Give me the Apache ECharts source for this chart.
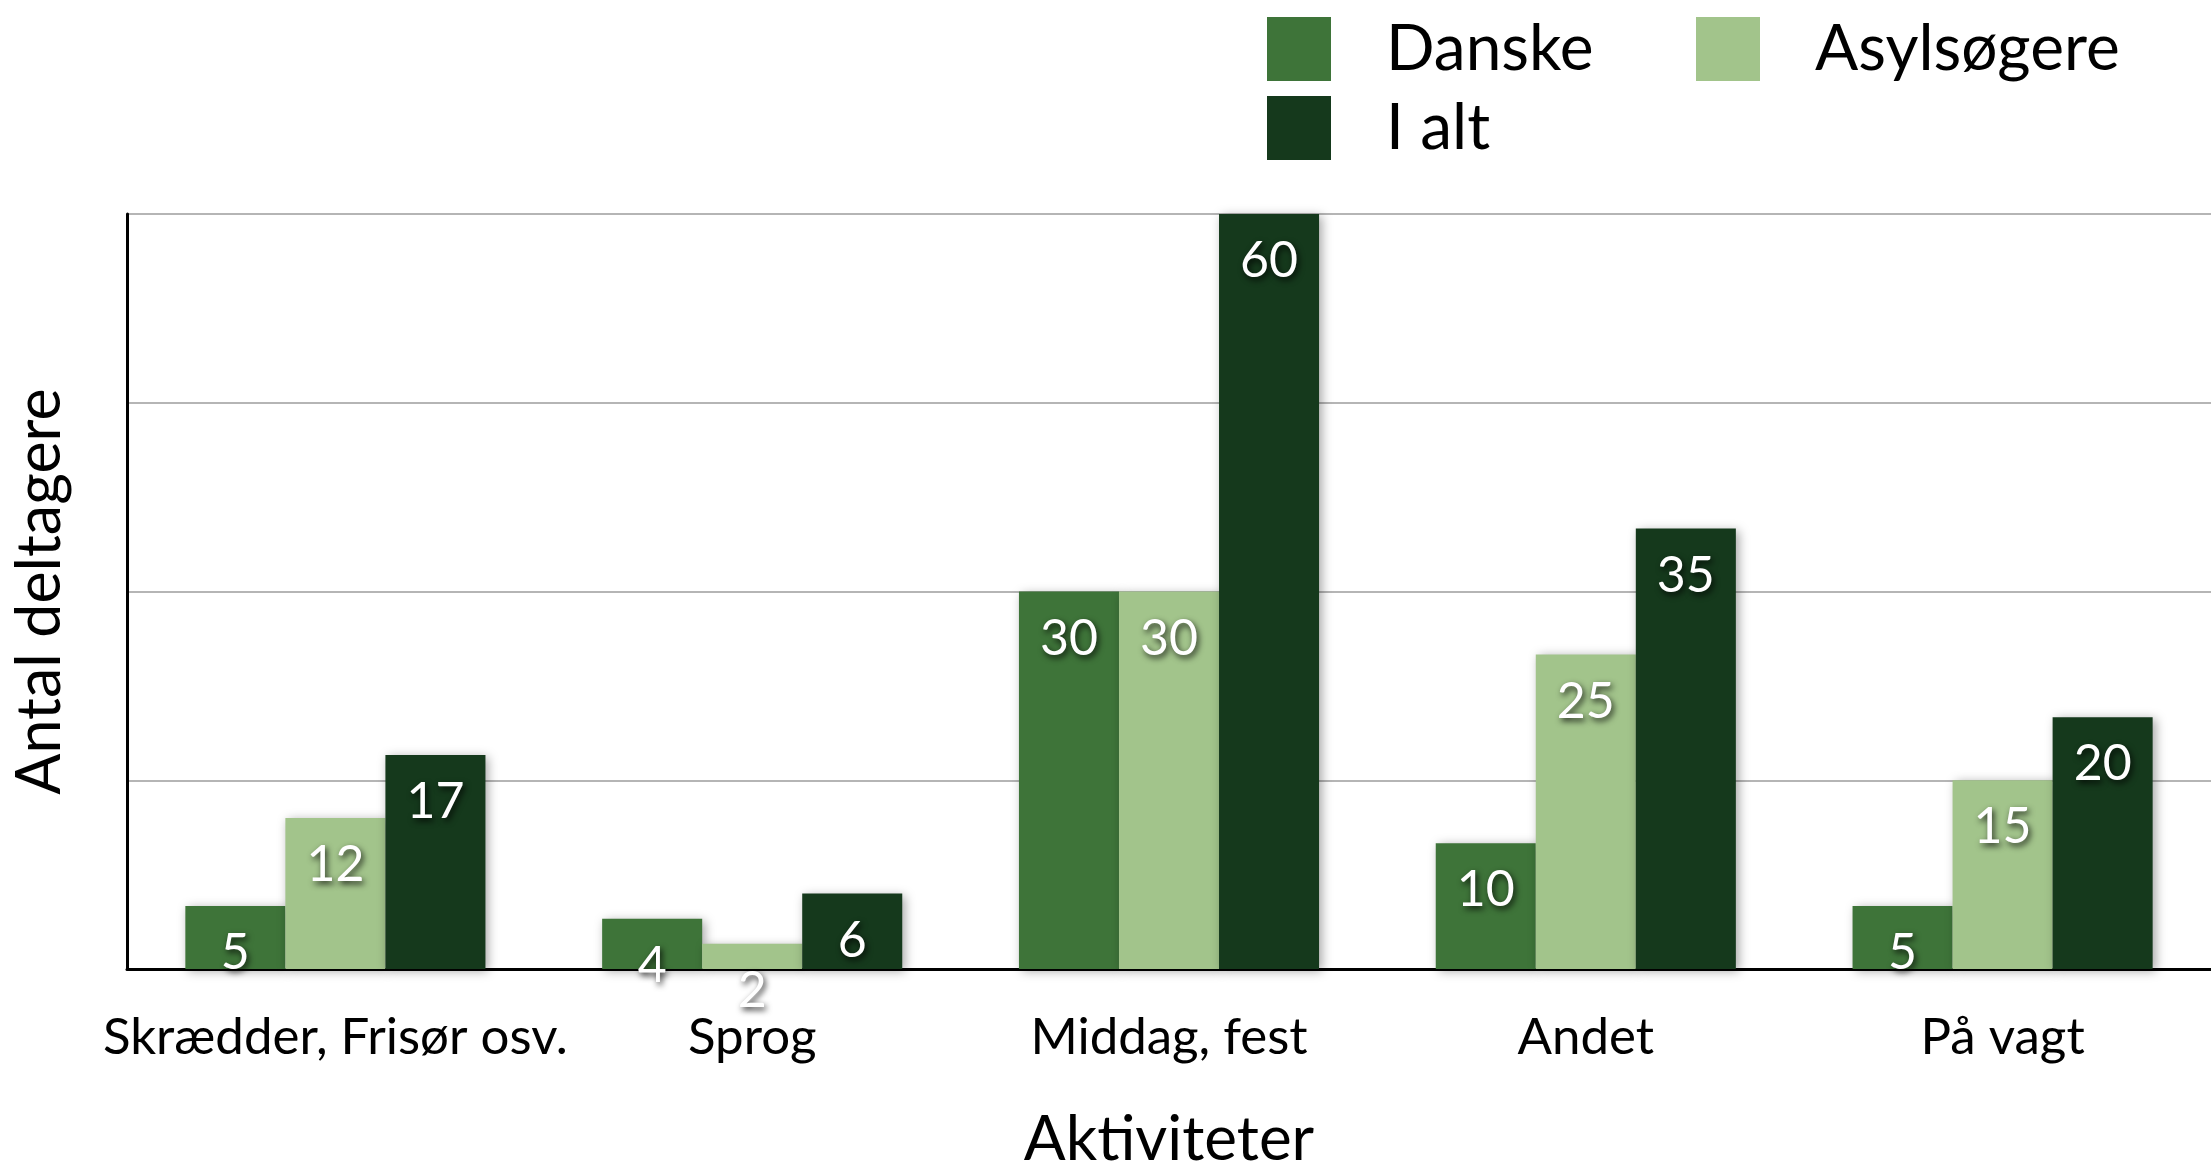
<!DOCTYPE html>
<html>
<head>
<meta charset="utf-8">
<script src="https://cdn.jsdelivr.net/npm/echarts@6/dist/echarts.min.js"></script>
<style>
html,body{margin:0;padding:0;background:#fff;}
#main{width:2211px;height:1162px;}
</style>
</head>
<body>
<div id="main"></div>
<script>
// aktiviteter og deltagere
var categories = ['Skrædder, Frisør osv.', 'Sprog', 'Middag, fest', 'Andet', 'På vagt'];
var danske = [5, 4, 30, 10, 5];
var asylsogere = [12, 2, 30, 25, 15];
var ialt = [17, 6, 60, 35, 20];

var fontName = 'Lato, "Open Sans", sans-serif';

function barLabel() {
    return {
        show: true,
        position: 'insideTop',
        distance: 22,
        color: '#fff',
        fontFamily: fontName,
        fontSize: 50,
        textShadowColor: 'rgba(0,0,0,0.8)',
        textShadowBlur: 6,
        textShadowOffsetX: 2,
        textShadowOffsetY: 3
    };
}

function barStyle(c) {
    return {
        color: c,
        shadowColor: 'rgba(0,0,0,0.35)',
        shadowBlur: 10,
        shadowOffsetX: 3,
        shadowOffsetY: 2
    };
}

var chart = echarts.init(document.getElementById('main'));
var option = {
    backgroundColor: '#fff',
    animation: false,
    legend: [{
        data: ['Danske', 'I alt'],
        orient: 'vertical',
        left: 1262,
        top: 12,
        itemWidth: 64,
        itemHeight: 64,
        itemGap: 15,
        icon: 'rect',
        textStyle: {fontFamily: fontName, fontSize: 64, color: '#000', padding: [0, 0, 0, 50]}
    }, {
        data: ['Asylsøgere'],
        orient: 'vertical',
        left: 1691,
        top: 12,
        itemWidth: 64,
        itemHeight: 64,
        icon: 'rect',
        textStyle: {fontFamily: fontName, fontSize: 64, color: '#000', padding: [0, 0, 0, 50]}
    }],
    grid: {left: 127, right: 0, top: 214, bottom: 193, outerBoundsMode: 'none'},
    xAxis: {
        type: 'category',
        data: categories,
        name: 'Aktiviteter',
        nameLocation: 'middle',
        nameGap: 140,
        nameTextStyle: {fontFamily: fontName, fontSize: 62, color: '#000'},
        axisLine: {lineStyle: {color: '#000', width: 3}},
        axisTick: {show: false},
        axisLabel: {interval: 0, fontFamily: fontName, fontSize: 51, color: '#000', margin: 43}
    },
    yAxis: {
        type: 'value',
        min: 0,
        max: 60,
        interval: 15,
        name: 'Antal deltagere',
        nameLocation: 'middle',
        nameGap: 56,
        nameTextStyle: {fontFamily: fontName, fontSize: 61, color: '#000'},
        axisLine: {show: true, lineStyle: {color: '#000', width: 3}},
        axisTick: {show: false},
        axisLabel: {show: false},
        splitLine: {lineStyle: {color: '#b5b5b5', width: 2}}
    },
    series: [{
        name: 'Danske',
        type: 'bar',
        data: danske,
        barGap: '0%',
        barCategoryGap: '28%',
        itemStyle: barStyle('#3e7439'),
        label: barLabel()
    }, {
        name: 'Asylsøgere',
        type: 'bar',
        data: asylsogere,
        itemStyle: barStyle('#a2c48b'),
        label: barLabel()
    }, {
        name: 'I alt',
        type: 'bar',
        data: ialt,
        itemStyle: barStyle('#15391c'),
        label: barLabel()
    }]
};
chart.setOption(option);
</script>
</body>
</html>
